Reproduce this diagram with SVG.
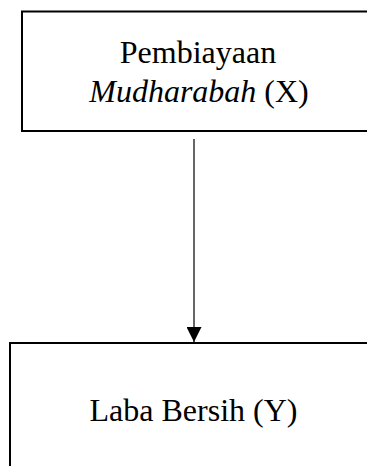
<svg xmlns="http://www.w3.org/2000/svg" width="367" height="466" viewBox="0 0 367 466">
<style>
.box{fill:#fff;stroke:#000;stroke-width:2}
.t{font-family:"Liberation Serif","Times New Roman",serif;font-size:32px;fill:#000;text-anchor:middle}
.conn{stroke:#333;stroke-width:1.5;fill:none}
</style>
<defs>
<marker id="ah" markerWidth="15" markerHeight="15" refX="15" refY="7.5" orient="auto" markerUnits="userSpaceOnUse">
<path d="M0,0 L15,7.5 L0,15 Z" fill="#000"/>
</marker>
</defs>
<rect width="367" height="466" fill="#fff"/>
<g id="nodeX">
<rect class="box" x="22" y="11.5" width="360" height="119.5"/>
<text class="t" x="198" y="63">Pembiayaan</text>
<text class="t" x="199" y="102"><tspan font-style="italic">Mudharabah</tspan> (X)</text>
</g>
<g id="nodeY">
<rect class="box" x="10" y="343" width="370" height="140"/>
<text class="t" x="193.5" y="421">Laba Bersih (Y)</text>
</g>
<g id="connectors">
<line class="conn" x1="194" y1="139" x2="194" y2="342" marker-end="url(#ah)"/>
</g>
</svg>
